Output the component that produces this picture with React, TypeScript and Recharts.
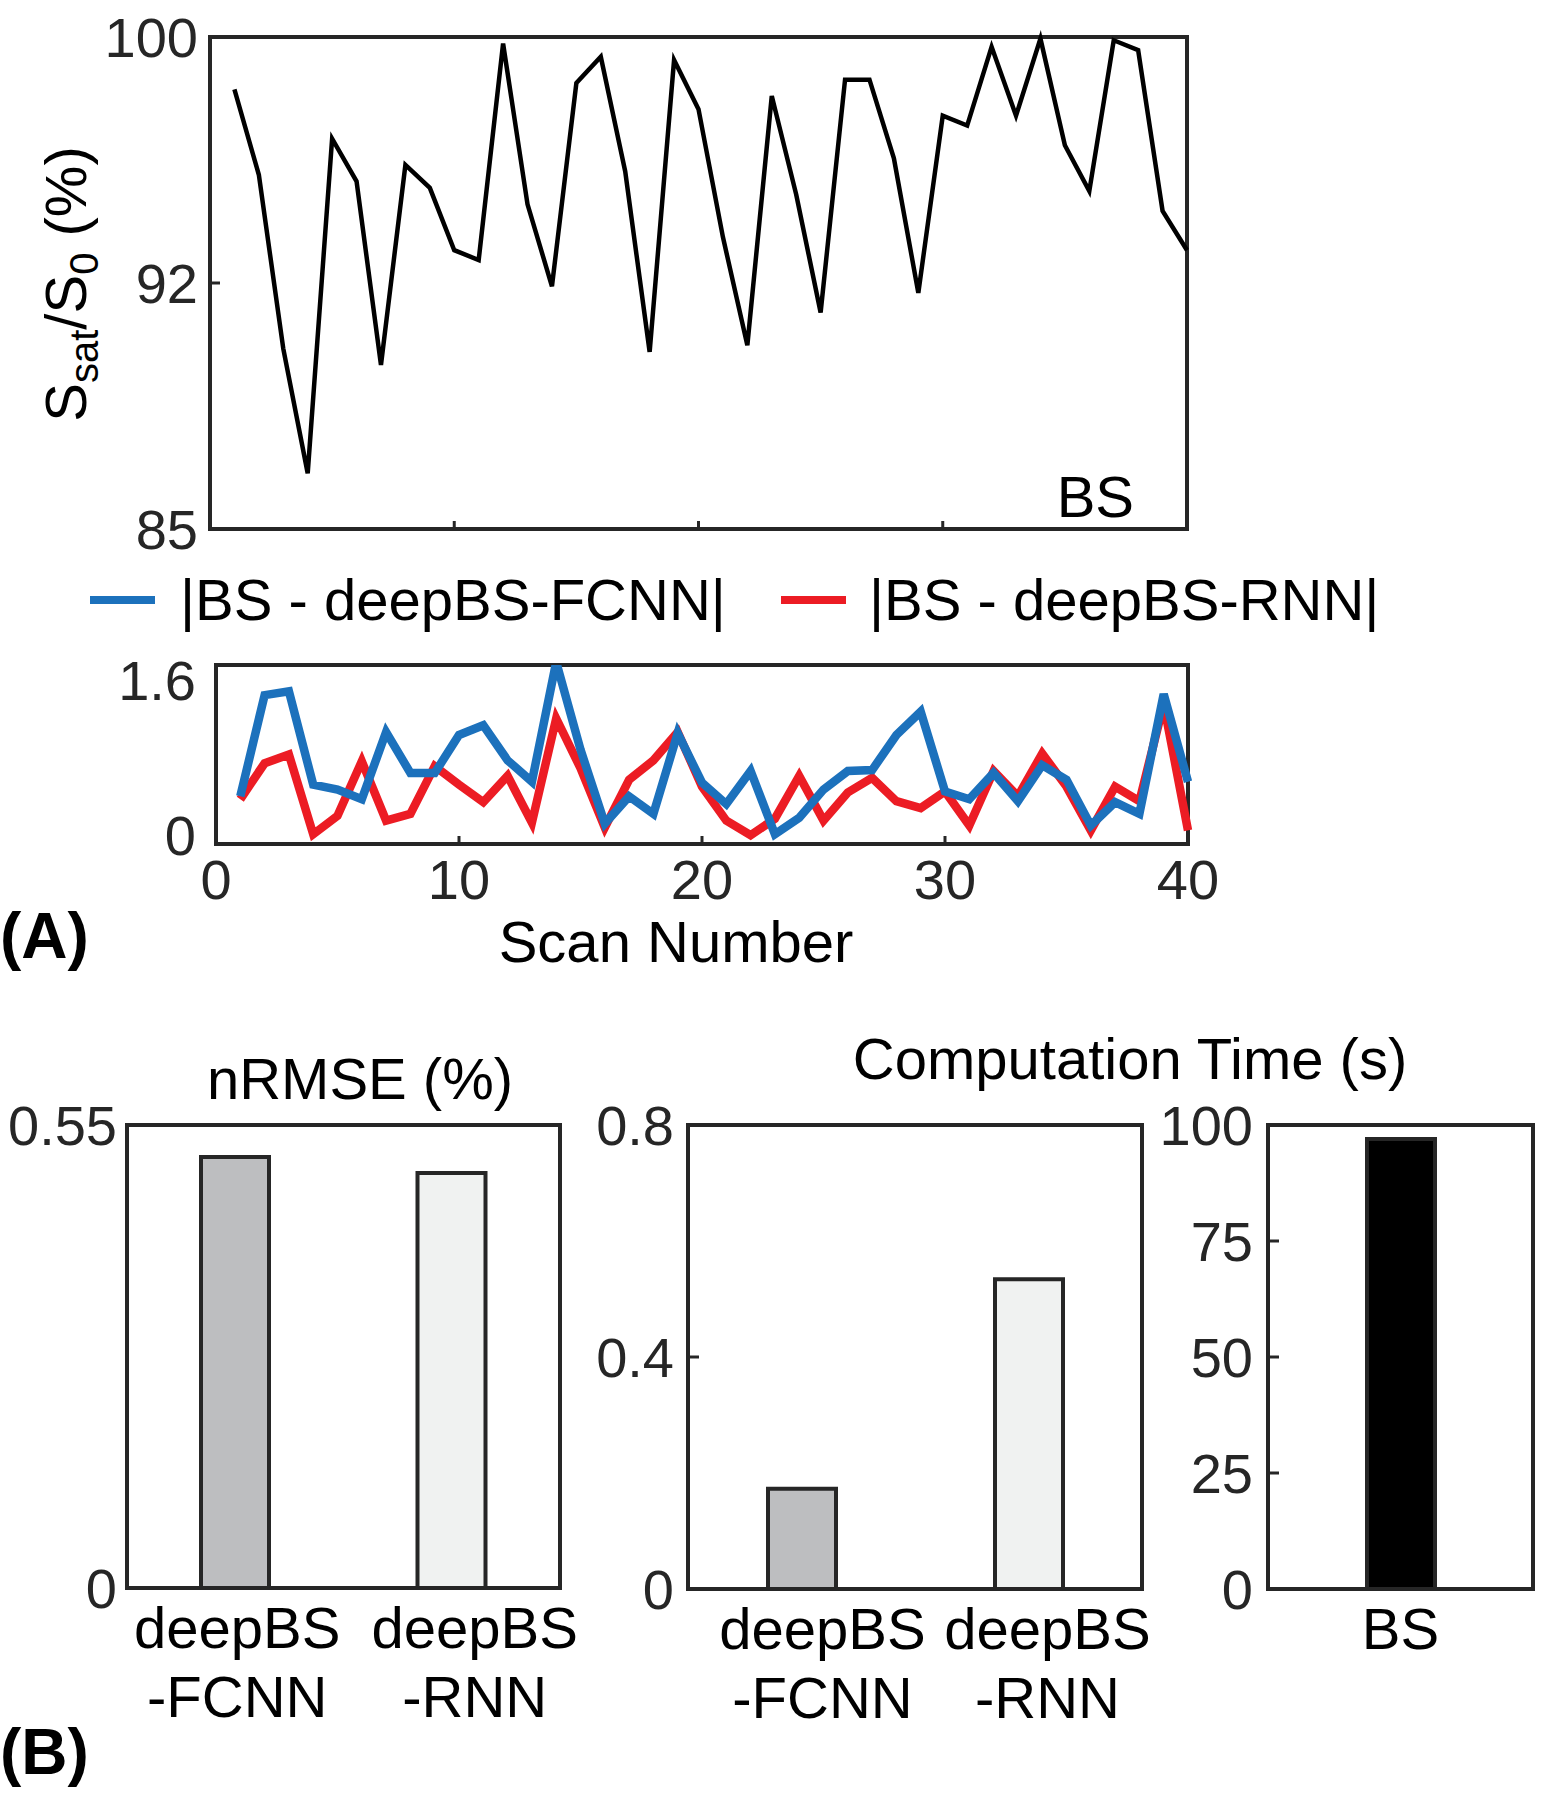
import React from 'react';
import { LineChart, Line, XAxis, YAxis, BarChart, Bar, Cell, ReferenceArea, Legend, Label } from 'recharts';

const FONT = "'Liberation Sans', Arial, Helvetica, sans-serif";
const INK = '#262626';
const BLUE = '#1C71BC';
const RED = '#EC1C24';

// scan numbers and the three per-scan series
const scanNumbers = [
  1, 2, 3, 4, 5, 6, 7, 8, 9, 10, 11, 12, 13, 14, 15, 16, 17, 18, 19, 20,
  21, 22, 23, 24, 25, 26, 27, 28, 29, 30, 31, 32, 33, 34, 35, 36, 37, 38, 39, 40,
];
const bsRatio = [
  98.4, 95.8, 90.5, 86.7, 96.9, 95.6, 90.0, 96.1, 95.4, 93.5,
  93.2, 99.8, 94.9, 92.4, 98.6, 99.4, 95.9, 90.4, 99.3, 97.8,
  93.9, 90.6, 98.2, 95.2, 91.6, 98.7, 98.7, 96.3, 92.2, 97.6,
  97.3, 99.7, 97.6, 99.95, 96.7, 95.3, 99.9, 99.6, 94.7, 93.5,
];
const fcnnDiff = [
  0.40, 1.44, 1.48, 0.52, 0.47, 0.37, 1.06, 0.64, 0.64, 1.03,
  1.13, 0.77, 0.55, 1.78, 0.88, 0.12, 0.40, 0.22, 1.05, 0.54,
  0.32, 0.66, 0.01, 0.18, 0.47, 0.66, 0.67, 1.03, 1.27, 0.45,
  0.37, 0.64, 0.35, 0.72, 0.57, 0.10, 0.34, 0.22, 1.45, 0.55,
];
const rnnDiff = [
  0.37, 0.74, 0.83, 0.01, 0.20, 0.76, 0.15, 0.22, 0.71, 0.52,
  0.34, 0.61, 0.13, 1.20, 0.69, 0.08, 0.57, 0.77, 1.06, 0.50,
  0.15, 0.00, 0.17, 0.61, 0.15, 0.44, 0.59, 0.35, 0.28, 0.45,
  0.10, 0.66, 0.40, 0.84, 0.50, 0.05, 0.50, 0.35, 1.35, 0.05,
];

const scanDomain = [0, 40];
const scanTicks = [0, 10, 20, 30, 40];
const ratioDomain = [85, 100];
const ratioTicks = [85, 92.5, 100];
const diffDomain = [-0.09, 1.75];
const diffTicks = [0, 1.6];

// bar panels
const deepLabels = ['deepBS-FCNN', 'deepBS-RNN'];
const nrmseValues = [0.512, 0.493];
const deepTimeValues = [0.173, 0.534];
const bsLabels = ['BS'];
const bsTimeValues = [97.0];
const nrmseDomain = [0, 0.55];
const nrmseTicks = [0, 0.55];
const deepTimeDomain = [0, 0.8];
const deepTimeTicks = [0, 0.4, 0.8];
const bsTimeDomain = [0, 100];
const bsTimeTicks = [0, 25, 50, 75, 100];
const deepFills = ['#BDBEC0', '#F0F2F1'];

const scanRows = scanNumbers.map((scan, i) => ({
  scan,
  bs: bsRatio[i],
  fcnn: fcnnDiff[i],
  rnn: rnnDiff[i],
}));
const nrmseRows = deepLabels.map((name, i) => ({ name, value: nrmseValues[i] }));
const deepTimeRows = deepLabels.map((name, i) => ({ name, value: deepTimeValues[i] }));
const bsTimeRows = bsLabels.map((name, i) => ({ name, value: bsTimeValues[i] }));

const TICK_SIZE = 56;
const TEXT_SIZE = 58;

const makeYTick = (gap: number, mark: number, fmt: (v: number) => string) =>
  ({ x = 0, y = 0, payload }: any) => (
    <g>
      {mark > 0 && <line x1={x} y1={y} x2={x + mark} y2={y} stroke={INK} strokeWidth={3} />}
      <text x={x - gap} y={y} dy={TICK_SIZE * 0.36} textAnchor="end" fontSize={TICK_SIZE} fontFamily={FONT} fill={INK}>
        {fmt(Number(payload?.value))}
      </text>
    </g>
  );

const makeXTick = (mark: number, labelled: boolean) =>
  ({ x = 0, y = 0, payload }: any) => (
    <g>
      <line x1={x} y1={y} x2={x} y2={y - mark} stroke={INK} strokeWidth={3} />
      {labelled && (
        <text x={x} y={y + 55} textAnchor="middle" fontSize={TICK_SIZE} fontFamily={FONT} fill={INK}>
          {payload?.value}
        </text>
      )}
    </g>
  );

// two-line category labels, nudged sideways like the original figure
const makeCategoryTick = (shifts: number[]) =>
  ({ x = 0, y = 0, payload, index = 0 }: any) => {
    const name = String(payload?.value ?? '');
    const cut = name.indexOf('-');
    const lines = cut > 0 ? [name.slice(0, cut), name.slice(cut)] : [name];
    const cx = x + (shifts[index] ?? 0);
    return (
      <text x={cx} y={y} textAnchor="middle" fontSize={TEXT_SIZE} fontFamily={FONT} fill="#000">
        {lines.map((l, i) => (
          <tspan key={i} x={cx} dy={i === 0 ? 60 : 69}>{l}</tspan>
        ))}
      </text>
    );
  };

const renderRatioTitle = () => (
  <text transform="rotate(-90)" x={-284} y={86} textAnchor="middle" fontSize={TEXT_SIZE} fontFamily={FONT} fill="#000">
    S<tspan dy={12} fontSize={40}>sat</tspan>
    <tspan dy={-12}>/S</tspan>
    <tspan dy={12} fontSize={40}>0</tspan>
    <tspan dy={-12}> (%)</tspan>
  </text>
);

const renderBsTag = ({ viewBox }: any) => (
  <text x={viewBox.x + viewBox.width - 53} y={viewBox.y + viewBox.height - 12} textAnchor="end"
    fontSize={TEXT_SIZE} fontFamily={FONT} fill="#000">BS</text>
);

const renderScanTitle = () => (
  <text x={676} y={402} textAnchor="middle" fontSize={TEXT_SIZE} fontFamily={FONT} fill="#000">Scan Number</text>
);

const legendSlots: Record<string, { swatch: number; text: number }> = {
  fcnn: { swatch: 90, text: 180 },
  rnn: { swatch: 781, text: 869 },
};

const renderLegend = ({ payload = [] }: any) => (
  <svg width={1541} height={80} style={{ display: 'block', overflow: 'visible' }}>
    {payload.map((entry: any) => {
      const slot = legendSlots[String(entry.dataKey)];
      if (!slot) return null;
      return (
        <g key={entry.dataKey}>
          <line x1={slot.swatch} y1={40} x2={slot.swatch + 65} y2={40} stroke={entry.color} strokeWidth={8} />
          <text x={slot.text} y={60} fontSize={TEXT_SIZE} fontFamily={FONT} fill="#000">{entry.value}</text>
        </g>
      );
    })}
  </svg>
);

const frame = { fill: 'none', fillOpacity: 0, stroke: INK, strokeWidth: 4, ifOverflow: 'visible' as const };
const svgStyle = { overflow: 'visible' as const };

export default function App() {
  return (
    <div style={{ position: 'absolute', left: 0, top: 0, width: 1541, height: 1800, background: '#fff', fontFamily: FONT }}>
      <div style={{ position: 'absolute', left: 0, top: 0 }}>
        <LineChart width={1541} height={560} data={scanRows} style={svgStyle}
          margin={{ top: 37, right: 354, bottom: 1, left: 0 }}>
          <XAxis dataKey="scan" type="number" domain={scanDomain} ticks={scanTicks} interval={0} height={30}
            tickSize={0} tickMargin={0} axisLine={false} tickLine={false} tick={makeXTick(8, false)} />
          <YAxis type="number" domain={ratioDomain} ticks={ratioTicks} interval={0} width={210}
            tickSize={0} tickMargin={0} axisLine={false} tickLine={false}
            tick={makeYTick(12, 10, (v) => String(Math.floor(v)))}>
            <Label content={renderRatioTitle} />
          </YAxis>
          <ReferenceArea {...frame} x1={scanDomain[0]} x2={scanDomain[1]} y1={ratioDomain[0]} y2={ratioDomain[1]}
            label={renderBsTag} />
          <Line dataKey="bs" type="linear" stroke="#000" strokeWidth={4.5} dot={false} activeDot={false}
            isAnimationActive={false} />
        </LineChart>
      </div>

      <div style={{ position: 'absolute', left: 0, top: 560 }}>
        <LineChart width={1541} height={420} data={scanRows} style={svgStyle}
          margin={{ top: 105, right: 353, bottom: 36, left: 0 }}>
          <XAxis dataKey="scan" type="number" domain={scanDomain} ticks={scanTicks} interval={0} height={100}
            tickSize={0} tickMargin={0} axisLine={false} tickLine={false} tick={makeXTick(8, true)}>
            <Label content={renderScanTitle} />
          </XAxis>
          <YAxis type="number" domain={diffDomain} allowDataOverflow ticks={diffTicks} interval={0} width={216}
            tickSize={0} tickMargin={0} axisLine={false} tickLine={false}
            tick={makeYTick(20, 0, (v) => String(v))} />
          <ReferenceArea {...frame} x1={scanDomain[0]} x2={scanDomain[1]} y1={diffDomain[0]} y2={diffDomain[1]} />
          <Legend content={renderLegend} layout="horizontal" verticalAlign="middle" align="center"
            wrapperStyle={{ top: 0, left: 0, width: 1541, height: 80 }} />
          <Line dataKey="rnn" name="|BS - deepBS-RNN|" type="linear" stroke={RED} strokeWidth={8.5}
            dot={false} activeDot={false} isAnimationActive={false} />
          <Line dataKey="fcnn" name="|BS - deepBS-FCNN|" type="linear" stroke={BLUE} strokeWidth={8.5}
            dot={false} activeDot={false} isAnimationActive={false} />
        </LineChart>
      </div>

      <div style={{ position: 'absolute', left: 0, top: 1060 }}>
        <BarChart width={600} height={680} data={nrmseRows} style={svgStyle}
          margin={{ top: 65, right: 40, bottom: 12, left: 0 }}>
          <XAxis dataKey="name" type="category" interval={0} height={140} tickSize={0} tickMargin={0}
            axisLine={false} tickLine={false} tick={makeCategoryTick([2, 23])} />
          <YAxis type="number" domain={nrmseDomain} ticks={nrmseTicks} interval={0} width={127}
            tickSize={0} tickMargin={0} axisLine={false} tickLine={false}
            tick={makeYTick(10, 0, (v) => String(v))} />
          <ReferenceArea {...frame} x1={deepLabels[0]} x2={deepLabels[deepLabels.length - 1]}
            y1={nrmseDomain[0]} y2={nrmseDomain[1]} />
          <Bar dataKey="value" barSize={68} stroke={INK} strokeWidth={4} isAnimationActive={false}>
            {nrmseRows.map((row, i) => <Cell key={row.name} fill={deepFills[i]} />)}
          </Bar>
        </BarChart>
      </div>

      <div style={{ position: 'absolute', left: 580, top: 1060 }}>
        <BarChart width={600} height={680} data={deepTimeRows} style={svgStyle}
          margin={{ top: 65, right: 38, bottom: 11, left: 0 }}>
          <XAxis dataKey="name" type="category" interval={0} height={140} tickSize={0} tickMargin={0}
            axisLine={false} tickLine={false} tick={makeCategoryTick([21, 19])} />
          <YAxis type="number" domain={deepTimeDomain} ticks={deepTimeTicks} interval={0} width={108}
            tickSize={0} tickMargin={0} axisLine={false} tickLine={false}
            tick={makeYTick(14, 11, (v) => String(v))} />
          <ReferenceArea {...frame} x1={deepLabels[0]} x2={deepLabels[deepLabels.length - 1]}
            y1={deepTimeDomain[0]} y2={deepTimeDomain[1]} />
          <Bar dataKey="value" barSize={68} stroke={INK} strokeWidth={4} isAnimationActive={false}>
            {deepTimeRows.map((row, i) => <Cell key={row.name} fill={deepFills[i]} />)}
          </Bar>
        </BarChart>
      </div>

      <div style={{ position: 'absolute', left: 1150, top: 1060 }}>
        <BarChart width={391} height={680} data={bsTimeRows} style={svgStyle}
          margin={{ top: 65, right: 8, bottom: 11, left: 0 }}>
          <XAxis dataKey="name" type="category" interval={0} height={140} tickSize={0} tickMargin={0}
            axisLine={false} tickLine={false} tick={makeCategoryTick([0])} />
          <YAxis type="number" domain={bsTimeDomain} ticks={bsTimeTicks} interval={0} width={118}
            tickSize={0} tickMargin={0} axisLine={false} tickLine={false}
            tick={makeYTick(15, 11, (v) => String(v))} />
          <ReferenceArea {...frame} x1={bsLabels[0]} x2={bsLabels[0]}
            y1={bsTimeDomain[0]} y2={bsTimeDomain[1]} />
          <Bar dataKey="value" barSize={68} stroke={INK} strokeWidth={4} isAnimationActive={false}>
            {bsTimeRows.map((row) => <Cell key={row.name} fill="#000" />)}
          </Bar>
        </BarChart>
      </div>

      <svg width={1541} height={1800} style={{ position: 'absolute', left: 0, top: 0, pointerEvents: 'none' }}>
        <text x={0} y={958} fontSize={64} fontWeight="bold" fontFamily={FONT} fill="#000">(A)</text>
        <text x={0} y={1774} fontSize={64} fontWeight="bold" fontFamily={FONT} fill="#000">(B)</text>
        <text x={360} y={1099} textAnchor="middle" fontSize={TEXT_SIZE} fontFamily={FONT} fill="#000">nRMSE (%)</text>
        <text x={1130} y={1079} textAnchor="middle" fontSize={TEXT_SIZE} fontFamily={FONT} fill="#000">Computation Time (s)</text>
      </svg>
    </div>
  );
}
